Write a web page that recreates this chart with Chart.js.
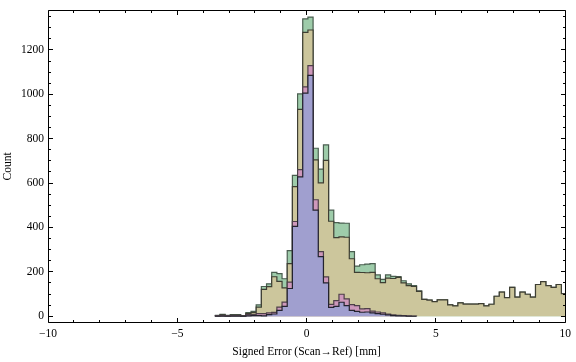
<!DOCTYPE html>
<html>
<head>
<meta charset="utf-8">
<script src="https://cdn.jsdelivr.net/npm/chart.js@4.4.1/dist/chart.umd.min.js"></script>
<style>
  html, body { margin: 0; padding: 0; background: #fff; }
  #wrap { width: 576px; height: 362px; }
</style>
</head>
<body>
<div id="wrap"><canvas id="histChart" width="576" height="362"></canvas></div>
<script>
// histogram bins, 0.2 mm wide
const binStart = -3.55;
const binWidth = 0.2;

// counts per bin, one array per stacked layer (bottom to top)
const blueCounts = [0, 0, 0, 0, 0, 0, 2, 3, 3, 2, 7, 10, 26, 44, 125, 405, 628, 1005, 1085, 478,
  269, 150, 40, 44, 63, 48, 26, 22, 18, 19, 15, 12, 9, 6, 3, 2, 1, 0, 0, 0];
const pinkCounts = [2, 3, 2, 3, 3, 1, 5, 4, 9, 10, 8, 7, 15, 20, 29, 22, 33, 29, 44, 47,
  22, 27, 13, 26, 36, 30, 26, 26, 15, 15, 8, 7, 6, 4, 3, 2, 2, 2, 1, 0];
const tanCounts = [1, 3, 1, 2, 2, 1, 5, 9, 29, 109, 118, 161, 116, 64, 83, 157, 271, 245, 161, 180,
  310, 525, 375, 284, 259, 278, 207, 150, 164, 162, 175, 150, 136, 162, 164, 171, 147, 136, 133, 112,
  76, 73, 66, 74, 74, 51, 47, 60, 55, 55, 55, 57, 47, 54, 90, 109, 84, 130, 86, 109,
  99, 86, 143, 156, 138, 130, 143, 102];
const greenCounts = [1, 2, 1, 2, 2, 1, 4, 6, 10, 13, 13, 20, 35, 41, 59, 51, 70, 61, 58, 52,
  62, 70, 50, 68, 62, 63, 32, 28, 35, 39, 39, 17, 15, 14, 10, 4, 10, 8, 4, 2,
  0, 0, 0, 0, 0, 0, 0, 0, 0, 0, 0, 0, 0, 0, 0, 0, 0, 0, 0, 0,
  0, 0, 0, 0, 0, 0, 0, 0];

const xTickValues = [-10, -5, 0, 5, 10];
const yTickValues = [0, 200, 400, 600, 800, 1000, 1200];

const nBins = tanCounts.length;
const fontFamily = "'Liberation Serif', 'Times New Roman', serif";

// one point per bin edge, the last edge repeats the last count so the step closes
function toSteps(counts) {
  const pts = [];
  for (let i = 0; i <= nBins; i++) {
    const c = i < nBins ? counts[i] : counts[nBins - 1];
    pts.push({ x: +(binStart + i * binWidth).toFixed(2), y: c === undefined ? null : c });
  }
  return pts;
}

function fmtNum(v) {
  return v < 0 ? '\u2212' + Math.abs(v) : String(v);
}

// Mathematica style frame: inward ticks on all four sides
const frameTicks = {
  id: 'frameTicks',
  afterDraw(chart) {
    const { ctx, chartArea: a, scales: { x, y } } = chart;
    const L = Math.floor(a.left) + 0.5, R = Math.floor(a.right) + 0.5;
    const T = Math.floor(a.top) + 0.5, B = Math.floor(a.bottom) + 0.5;
    ctx.save();
    ctx.strokeStyle = '#000';
    ctx.lineWidth = 1;
    ctx.beginPath();
    ctx.moveTo(L, T); ctx.lineTo(R, T); ctx.lineTo(R, B); ctx.lineTo(L, B); ctx.closePath();
    for (let v = -10; v <= 10; v++) {
      const len = v % 5 === 0 ? 4.5 : 2.5;
      const px = Math.floor(x.getPixelForValue(v)) + 0.5;
      ctx.moveTo(px, B); ctx.lineTo(px, B - len);
      ctx.moveTo(px, T); ctx.lineTo(px, T + len);
    }
    for (let v = 0; v <= 1350; v += 50) {
      const len = v % 200 === 0 ? 4.5 : 2.5;
      const py = Math.floor(y.getPixelForValue(v)) + 0.5;
      ctx.moveTo(L, py); ctx.lineTo(L + len, py);
      ctx.moveTo(R, py); ctx.lineTo(R - len, py);
    }
    ctx.stroke();
    ctx.restore();
  }
};

const layers = [
  { counts: blueCounts, fill: 'rgb(160,159,207)', edge: '#23232e' },
  { counts: pinkCounts, fill: 'rgb(206,152,187)', edge: '#4e4049' },
  { counts: tanCounts, fill: 'rgb(204,198,156)', edge: '#3e3e33' },
  { counts: greenCounts, fill: 'rgb(158,204,170)', edge: '#4a5e50' }
];

new Chart(document.getElementById('histChart'), {
  type: 'line',
  data: {
    datasets: layers.map(l => ({
      data: toSteps(l.counts),
      backgroundColor: l.fill,
      borderColor: l.edge,
      borderWidth: 1.2,
      fill: 'origin',
      stepped: 'before',
      pointRadius: 0
    }))
  },
  options: {
    responsive: false,
    animation: false,
    devicePixelRatio: 1,
    layout: { padding: { top: 1, right: 7, left: 0, bottom: 0 } },
    plugins: { legend: { display: false }, tooltip: { enabled: false } },
    scales: {
      x: {
        type: 'linear',
        min: -10,
        max: 10,
        grid: { display: false, drawTicks: false },
        border: { display: false },
        afterBuildTicks: s => { s.ticks = xTickValues.map(v => ({ value: v })); },
        ticks: {
          padding: 5,
          color: '#000',
          maxRotation: 0,
          font: { family: fontFamily, size: 11.5 },
          callback: v => fmtNum(v)
        },
        title: {
          display: true,
          text: 'Signed Error (Scan\u2192Ref) [mm]',
          color: '#000',
          font: { family: fontFamily, size: 11.5 },
          padding: { top: 0, bottom: 3 }
        },
        afterFit: s => { s.height = 40; }
      },
      y: {
        stacked: true,
        min: -26,
        max: 1376,
        grid: { display: false, drawTicks: false },
        border: { display: false },
        afterBuildTicks: s => { s.ticks = yTickValues.map(v => ({ value: v })); },
        ticks: {
          padding: 4,
          color: '#000',
          autoSkip: false,
          font: { family: fontFamily, size: 11.5 },
          callback: v => fmtNum(v)
        },
        title: {
          display: true,
          text: 'Count',
          color: '#000',
          font: { family: fontFamily, size: 11.5 },
          padding: { top: 1, bottom: 0 }
        },
        afterFit: s => { s.width = 48; }
      }
    }
  },
  plugins: [frameTicks]
});
</script>
</body>
</html>
